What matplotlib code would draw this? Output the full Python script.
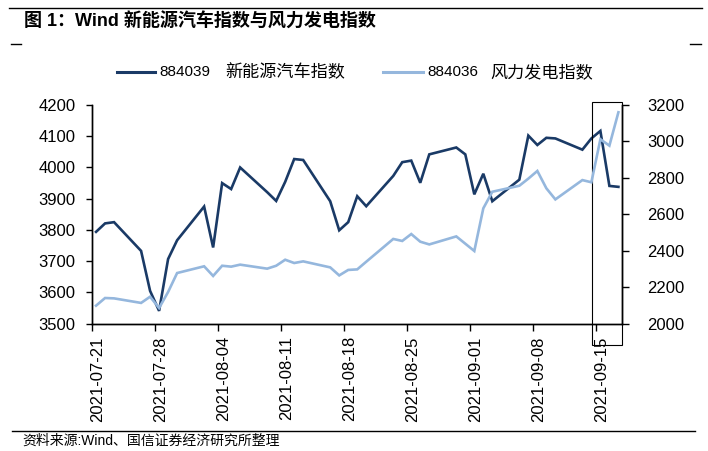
import matplotlib
matplotlib.use("Agg")
import matplotlib.pyplot as plt
import matplotlib.dates as mdates
import matplotlib.transforms as mtransforms
from matplotlib.patches import Rectangle
from matplotlib.lines import Line2D
import pandas as pd

# ---------------- data ----------------
dates = ["2021-07-21", "2021-07-22", "2021-07-23", "2021-07-26", "2021-07-27",
         "2021-07-28", "2021-07-29", "2021-07-30", "2021-08-02", "2021-08-03",
         "2021-08-04", "2021-08-05", "2021-08-06", "2021-08-09", "2021-08-10",
         "2021-08-11", "2021-08-12", "2021-08-13", "2021-08-16", "2021-08-17",
         "2021-08-18", "2021-08-19", "2021-08-20", "2021-08-23", "2021-08-24",
         "2021-08-25", "2021-08-26", "2021-08-27", "2021-08-30", "2021-08-31",
         "2021-09-01", "2021-09-02", "2021-09-03", "2021-09-06", "2021-09-07",
         "2021-09-08", "2021-09-09", "2021-09-10", "2021-09-13", "2021-09-14",
         "2021-09-15", "2021-09-16", "2021-09-17"]

nev_index = [3794, 3821, 3825, 3733, 3605,
             3541, 3707, 3767, 3875, 3744,
             3950, 3931, 4000, 3921, 3893,
             3954, 4027, 4024, 3892, 3799,
             3825, 3908, 3876, 3973, 4017,
             4022, 3951, 4042, 4064, 4042,
             3914, 3980, 3892, 3961, 4102,
             4072, 4095, 4093, 4057, 4093,
             4117, 3941, 3938]

wind_index = [2099, 2141, 2139, 2114, 2148,
              2086, 2174, 2278, 2315, 2262,
              2318, 2313, 2324, 2302, 2318,
              2351, 2333, 2342, 2309, 2265,
              2295, 2298, 2340, 2465, 2454,
              2492, 2450, 2435, 2479, 2439,
              2399, 2633, 2724, 2757, 2796,
              2838, 2743, 2682, 2788, 2776,
              3012, 2977, 3160]

tick_dates = ["2021-07-21", "2021-07-28", "2021-08-04", "2021-08-11", "2021-08-18",
              "2021-08-25", "2021-09-01", "2021-09-08", "2021-09-15"]

series_codes = ["884039", "884036"]
series_names = ["新能源汽车指数", "风力发电指数"]
left_ticks = [3500, 3600, 3700, 3800, 3900, 4000, 4100, 4200]
right_ticks = [2000, 2200, 2400, 2600, 2800, 3000, 3200]

title_text = "图 1：Wind 新能源汽车指数与风力发电指数"
source_text = "资料来源:Wind、国信证券经济研究所整理"

# ---------------- style ----------------
LAT = ["Liberation Sans", "Noto Sans CJK SC", "DejaVu Sans"]
CJK = ["Noto Sans CJK SC", "DejaVu Sans"]
plt.rcParams["font.family"] = LAT
dark = "#1a3a66"
light = "#95b7dd"
colors = [dark, light]

W, H = 708, 451
fig = plt.figure(figsize=(W / 100, H / 100), dpi=100)

def fx(px):
    return px / W

def fy(py):
    return 1 - py / H

ax = fig.add_axes([fx(92), fy(323.7), (622 - 92) / W, (323.7 - 105) / H])
ax2 = ax.twinx()

x = pd.to_datetime(dates)
ax.plot(x, nev_index, color=dark, lw=1.9, solid_joinstyle="miter", zorder=3)
ax2.plot(x, wind_index, color=light, lw=1.9, solid_joinstyle="miter", zorder=3)

d0 = mdates.date2num(pd.Timestamp(dates[0]))
d1 = mdates.date2num(pd.Timestamp(dates[-1]))
ax.set_xlim(d0 - 0.4, d1 + 0.4)

tick_nums = [mdates.date2num(pd.Timestamp(t)) for t in tick_dates]
ax.set_xticks([t - 0.45 for t in tick_nums])
ax.set_xticklabels([])
ax.set_xticks([t + 0.15 for t in tick_nums], minor=True)
ax.set_xticklabels(tick_dates, minor=True, rotation=90, fontsize=12)
ax.tick_params(axis="x", which="major", direction="out", length=5, width=1, color="black")
ax.tick_params(axis="x", which="minor", length=0, pad=9)

ax.set_ylim(3500, 4200)
ax.set_yticks(left_ticks)
ax.set_yticklabels([str(v) for v in left_ticks], fontsize=12)
ax.tick_params(axis="y", direction="out", length=4, width=1, pad=8)

ax2.set_ylim(2000, 3200)
ax2.set_yticks(right_ticks)
ax2.set_yticklabels([str(v) for v in right_ticks], fontsize=12)
ax2.tick_params(axis="y", direction="out", length=5, width=1, pad=13)

for a in (ax, ax2):
    a.spines["top"].set_visible(False)
    for s in ("left", "right", "bottom"):
        a.spines[s].set_color("black")
        a.spines[s].set_linewidth(1.0)
    a.set_facecolor("none")

# highlight box around the last days
trans = mtransforms.blended_transform_factory(ax.transData, ax.transAxes)
box_left = mdates.date2num(pd.Timestamp("2021-09-15")) - 0.92
box_right = d1 + 0.4
ax.add_patch(Rectangle((box_left, -0.097), box_right - box_left, 1.111,
                       transform=trans, fill=False, ec="black", lw=0.8,
                       clip_on=False, zorder=5))

# legend (drawn by hand so the spacing matches the reference)
leg_y = fy(72)
leg_layout = [(117, 155, 159, 225), (383, 423, 427, 490)]
for (h0, h1, tx, cx), col, code, name in zip(leg_layout, colors, series_codes, series_names):
    fig.add_artist(Line2D([fx(h0), fx(h1)], [leg_y, leg_y], color=col, lw=2.2,
                          transform=fig.transFigure))
    fig.text(fx(tx), leg_y, code, fontsize=11, ha="left", va="center", family=LAT)
    fig.text(fx(cx), leg_y, name, fontsize=12.3, ha="left", va="center", family=CJK)

# title, frame lines and source
fig.text(fx(24), fy(22), title_text, fontsize=13, fontweight="bold",
         ha="left", va="center", family=LAT)
for (xa, xb, yy) in [(9, 702, 8), (11, 21, 44), (690, 701, 44), (12, 695, 431)]:
    fig.add_artist(Line2D([fx(xa), fx(xb)], [fy(yy), fy(yy)], color="black", lw=1.0,
                          transform=fig.transFigure))
fig.text(fx(22), fy(441), source_text, fontsize=10, ha="left", va="center", family=LAT)

fig.savefig("out.png", dpi=100)
